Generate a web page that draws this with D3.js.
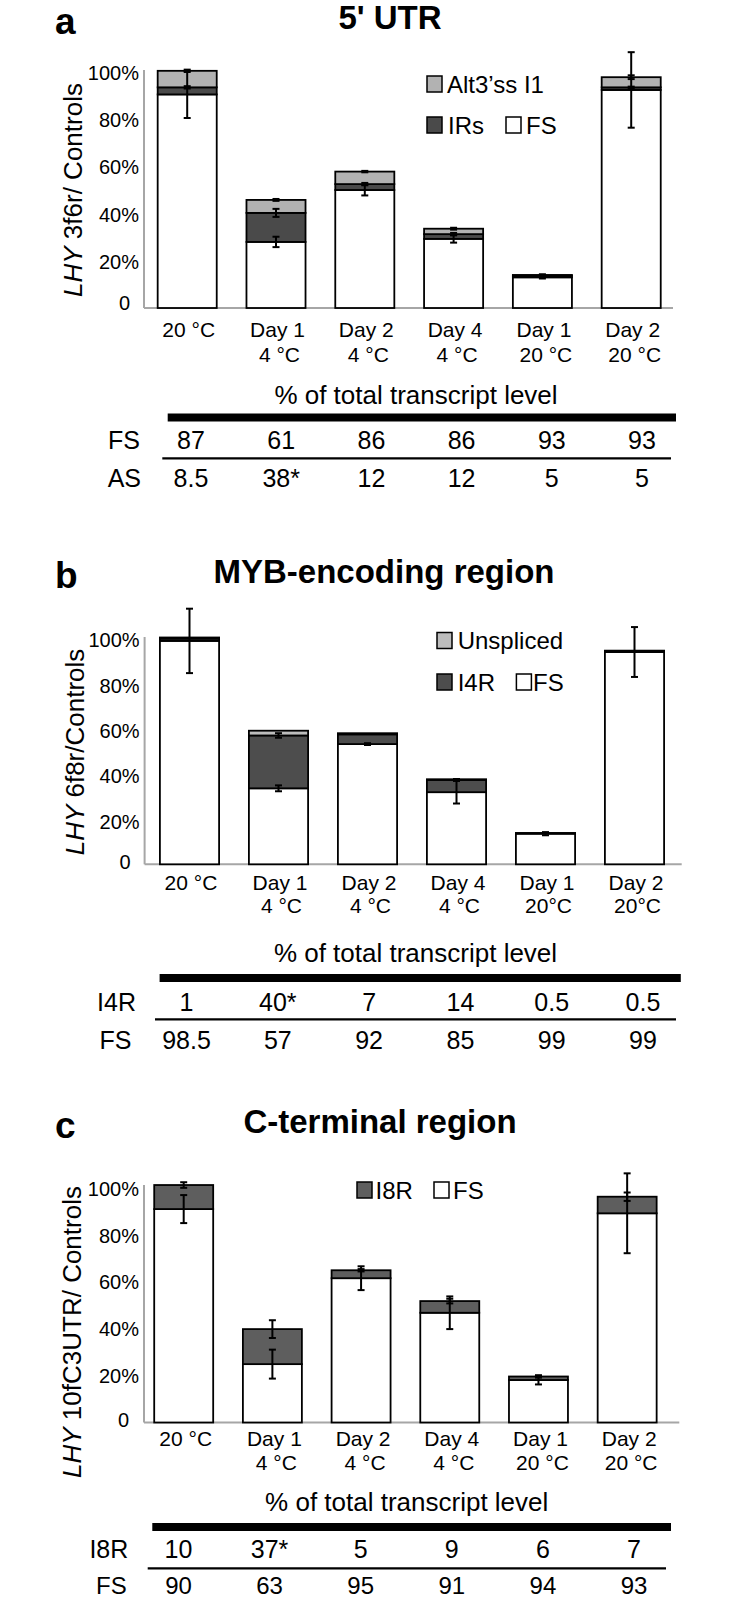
<!DOCTYPE html>
<html><head><meta charset="utf-8">
<script src="https://cdn.jsdelivr.net/npm/d3@7"></script>
<style>
body{margin:0;background:#fff}
svg text{font-family:"Liberation Sans",Arial,Helvetica,sans-serif;fill:#000}
</style>
</head><body>
<svg id="chart" width="732" height="1600"></svg>
<script>
// ---------- DATA ----------
const categories = ["20 °C","Day 1","Day 2","Day 4","Day 1","Day 2"];
const subLabelsA = ["","4 °C","4 °C","4 °C","20 °C","20 °C"];
const subLabelsB = ["","4 °C","4 °C","4 °C","20°C","20°C"];
const subLabelsC = ["","4 °C","4 °C","4 °C","20 °C","20 °C"];
const yTickValues = [0,20,40,60,80,100];
const yTickLabels = ["0","20%","40%","60%","80%","100%"];

// Panel a: 5' UTR (stacked, % of control)
const fsA   = [90.5, 28, 50, 29.3, 13, 92.4];
const irsA  = [3, 12.3, 2.5, 2, 0.7, 1.1];
const altA  = [7, 5.5, 5.3, 2.3, 0.3, 4.3];
const errFsA  = [10, 2.2, 2.3, 1.6, 0.5, 16];
const errIrsA = [0.5, 1.7, 0.5, 0.5, 0.3, 0.3];
const errAltA = [0.5, 0.4, 0.3, 0.4, 0.3, 0.8];
const tblA_FS = ["87","61","86","86","93","93"];
const tblA_AS = ["8.5","38*","12","12","5","5"];

// Panel b: MYB-encoding region
const fsB   = [98.5, 33.5, 53, 31.8, 13.5, 93.6];
const i4rB  = [1, 23.3, 4.3, 5.4, 0.2, 0.5];
const unsB  = [0.5, 2.1, 0.5, 0.3, 0.1, 0.1];
const errFsB  = [14.2, 1.3, 0.4, 5, 0.7, 11];
const errI4rB = [0, 1, 0, 0.4, 0, 0];
const errUnsB = [0, 0, 0, 0, 0, 0];
const tblB_I4R = ["1","40*","7","14","0.5","0.5"];
const tblB_FS  = ["98.5","57","92","85","99","99"];

// Panel c: C-terminal region
const fsC   = [91.4, 25, 61.8, 47, 18.2, 89.6];
const i8rC  = [10.3, 15, 3.4, 5, 1.5, 7.1];
const errFsC  = [6, 6.2, 5.1, 7, 1.9, 17.1];
const errI8rC = [1.2, 3.8, 0.5, 1, 0.5, 1.8];
const tblC_I8R = ["10","37*","5","9","6","7"];
const tblC_FS  = ["90","63","95","91","94","93"];

// ---------- DRAW ----------
const svg = d3.select("#chart");

function drawPanel(p){
  const g = svg.append("g");
  // headers
  g.append("text").attr("x",55).attr("y",p.letterY).attr("font-size",37).attr("font-weight","bold").text(p.letter);
  g.append("text").attr("x",p.titleX).attr("y",p.titleY).attr("text-anchor","middle")
    .attr("font-size",33).attr("font-weight","bold").text(p.title);

  const x = d3.scaleBand().domain(d3.range(categories.length)).range([p.bx0,p.bx1])
    .paddingInner(0.335).paddingOuter(0.1675);
  const y = d3.scaleLinear().domain([0,100]).range([p.y0,p.y100]);
  const bw = x.bandwidth();

  // stacked data
  const keys = p.series.map(s=>s.key);
  const rows = categories.map((c,i)=>{const o={i}; p.series.forEach(s=>o[s.key]=s.values[i]); return o;});
  const stacked = d3.stack().keys(keys)(rows);

  // y axis
  const ya = g.append("g").attr("transform",`translate(${p.axisX},0)`)
    .call(d3.axisLeft(y).tickValues(yTickValues).tickFormat((d,i)=>yTickLabels[i]).tickSize(0).tickPadding(5));
  ya.select(".domain").attr("stroke","#a6a6a6").attr("stroke-width",2).attr("d",`M0,${p.y0}V${p.axisTop}`);
  ya.selectAll(".tick text").attr("font-size",20).attr("font-family",null).attr("dy","0.32em")
    .attr("transform",d=> d===0 ? `translate(${p.zeroDx},${p.zeroDy})` : `translate(0,${p.tickDy})`);

  // x axis (line only, labels below)
  const xa = g.append("g").attr("transform",`translate(0,${p.y0})`)
    .call(d3.axisBottom(x).tickSize(0).tickFormat(""));
  xa.select(".domain").attr("stroke","#a6a6a6").attr("stroke-width",2).attr("d",`M${p.axisX},0H${p.axisEnd}`);

  categories.forEach((c,i)=>{
    const cx = x(i)+bw/2;
    g.append("text").attr("x",cx+p.l1dx).attr("y",p.lab1Y).attr("text-anchor","middle")
      .attr("dominant-baseline","central").attr("font-size",21).text(c);
    if(p.sub[i]) g.append("text").attr("x",cx+p.l2dx).attr("y",p.lab2Y).attr("text-anchor","middle")
      .attr("dominant-baseline","central").attr("font-size",21).text(p.sub[i]);
  });

  // bars
  stacked.forEach((layer,li)=>{
    const s = p.series[li];
    g.append("g").selectAll("rect").data(layer).join("rect")
      .attr("x",(d,i)=>x(i)).attr("width",bw)
      .attr("y",d=>y(d[1])).attr("height",d=>Math.max(0,y(d[0])-y(d[1])))
      .attr("fill",s.color).attr("stroke","#000").attr("stroke-width",1.8);
  });

  // error bars (centred on each segment top)
  stacked.forEach((layer,li)=>{
    const err = p.series[li].err;
    layer.forEach((d,i)=>{
      const e = err[i]; if(!e) return;
      const cx = x(i)+bw/2, v = d[1];
      const eg = g.append("g").attr("stroke","#000").attr("stroke-width",2);
      eg.append("line").attr("x1",cx).attr("x2",cx).attr("y1",y(v-e)).attr("y2",y(v+e));
      eg.append("line").attr("x1",cx-3.5).attr("x2",cx+3.5).attr("y1",y(v-e)).attr("y2",y(v-e));
      eg.append("line").attr("x1",cx-3.5).attr("x2",cx+3.5).attr("y1",y(v+e)).attr("y2",y(v+e));
    });
  });

  // y-axis title
  const yt = g.append("text").attr("transform",`translate(${p.ytX},${p.ytY}) rotate(-90)`)
    .attr("text-anchor","middle").attr("dominant-baseline","central").attr("font-size",26);
  yt.append("tspan").attr("font-style","italic").text("LHY");
  yt.append("tspan").text(p.yTitle);

  // legend
  p.legend.forEach(l=>{
    g.append("rect").attr("x",l.bx).attr("y",l.cy-8).attr("width",15).attr("height",16)
      .attr("fill",l.color).attr("stroke","#000").attr("stroke-width",1.5);
    g.append("text").attr("x",l.tx).attr("y",l.cy).attr("dominant-baseline","central")
      .attr("font-size",24).text(l.label);
  });

  // table
  g.append("text").attr("x",p.pctX).attr("y",p.pctY).attr("text-anchor","middle")
    .attr("dominant-baseline","central").attr("font-size",26).text("% of total transcript level");
  g.append("line").attr("x1",p.thick[0]).attr("x2",p.thick[1]).attr("y1",p.thick[2]).attr("y2",p.thick[2])
    .attr("stroke","#000").attr("stroke-width",8);
  g.append("line").attr("x1",p.thin[0]).attr("x2",p.thin[1]).attr("y1",p.thin[2]).attr("y2",p.thin[2])
    .attr("stroke","#000").attr("stroke-width",2.2);
  const col = d3.scalePoint().domain(d3.range(6)).range([p.colX0, p.colX0+5*p.colStep]);
  p.rows.forEach(r=>{
    g.append("text").attr("x",r.lx).attr("y",r.y).attr("text-anchor","end")
      .attr("dominant-baseline","central").attr("font-size",r.fs||25).text(r.label);
    r.vals.forEach((v,i)=>{
      g.append("text").attr("x",col(i)).attr("y",r.y).attr("text-anchor","middle")
        .attr("dominant-baseline","central").attr("font-size",r.fs||25).text(v);
    });
  });
}

drawPanel({
  letter:"a", letterY:34, title:"5' UTR", titleX:390, titleY:28.5,
  bx0:142.8, bx1:675.6, y0:308, y100:72, axisX:144, axisEnd:673, axisTop:70,
  tickDy:1, zeroDx:-9, zeroDy:-5,
  lab1Y:329.3, lab2Y:354, l1dx:1.5, l2dx:3.5, sub:subLabelsA,
  series:[
    {key:"FS", values:fsA, color:"#ffffff", err:errFsA},
    {key:"IRs", values:irsA, color:"#4a4a4a", err:errIrsA},
    {key:"Alt", values:altA, color:"#b2b2b2", err:errAltA}
  ],
  ytX:72.5, ytY:190, yTitle:" 3f6r/ Controls",
  legend:[
    {bx:427, cy:84, color:"#b2b2b2", tx:447, label:"Alt3’ss I1"},
    {bx:427, cy:125, color:"#4a4a4a", tx:448, label:"IRs"},
    {bx:506, cy:125, color:"#ffffff", tx:526, label:"FS"}
  ],
  pctX:416, pctY:395, thick:[167.7,676,417.5], thin:[162.3,671,458.3],
  colX0:191, colStep:90.2,
  rows:[{label:"FS", lx:140, y:440, vals:tblA_FS},{label:"AS", lx:141, y:478, vals:tblA_AS}]
});

drawPanel({
  letter:"b", letterY:588, title:"MYB-encoding region", titleX:384, titleY:582.7,
  bx0:145, bx1:679, y0:864.3, y100:637.5, axisX:144.6, axisEnd:681.7, axisTop:637,
  tickDy:3, zeroDx:-9, zeroDy:-2,
  lab1Y:882, lab2Y:905, l1dx:1.5, l2dx:3, sub:subLabelsB,
  series:[
    {key:"FS", values:fsB, color:"#ffffff", err:errFsB},
    {key:"I4R", values:i4rB, color:"#4d4d4d", err:errI4rB},
    {key:"Uns", values:unsB, color:"#bdbdbd", err:errUnsB}
  ],
  ytX:75, ytY:752, yTitle:" 6f8r/Controls",
  legend:[
    {bx:437, cy:640.5, color:"#bdbdbd", tx:457.7, label:"Unspliced"},
    {bx:437, cy:682, color:"#4d4d4d", tx:457.7, label:"I4R"},
    {bx:516.4, cy:682, color:"#ffffff", tx:533, label:"FS"}
  ],
  pctX:415.5, pctY:953.3, thick:[159.6,680.8,978], thin:[155,676,1019.3],
  colX0:186.5, colStep:91.3,
  rows:[{label:"I4R", lx:136, y:1001.7, vals:tblB_I4R},{label:"FS", lx:131.5, y:1040, vals:tblB_FS}]
});

drawPanel({
  letter:"c", letterY:1138, title:"C-terminal region", titleX:380, titleY:1132.7,
  bx0:139.35, bx1:671.5, y0:1422.5, y100:1189, axisX:144, axisEnd:679.3, axisTop:1185,
  tickDy:0, zeroDx:-10, zeroDy:-2.5,
  lab1Y:1438.3, lab2Y:1462.7, l1dx:2, l2dx:4, sub:subLabelsC,
  series:[
    {key:"FS", values:fsC, color:"#ffffff", err:errFsC},
    {key:"I8R", values:i8rC, color:"#5e5e5e", err:errI8rC}
  ],
  ytX:71.7, ytY:1332, yTitle:" 10fC3UTR/ Controls",
  legend:[
    {bx:357, cy:1190, color:"#5e5e5e", tx:375.6, label:"I8R"},
    {bx:434, cy:1190, color:"#ffffff", tx:453, label:"FS"}
  ],
  pctX:406.7, pctY:1501.7, thick:[152.3,671,1527], thin:[147.7,666,1568.3],
  colX0:178.5, colStep:91.1,
  rows:[{label:"I8R", lx:128.3, y:1549.3, vals:tblC_I8R},{label:"FS", lx:126.7, y:1585.5, vals:tblC_FS, fs:24}]
});
</script>
</body></html>
